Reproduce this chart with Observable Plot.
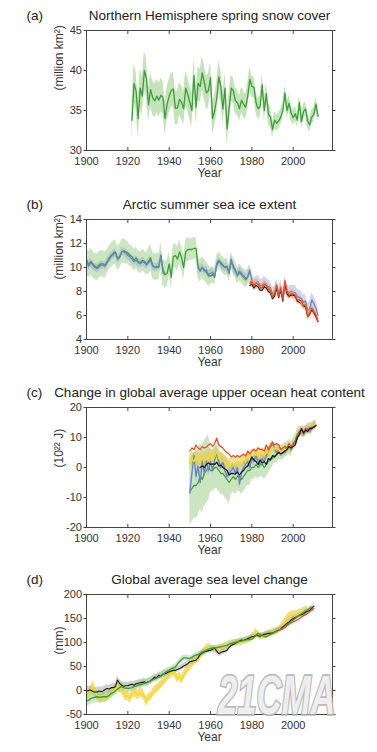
<!DOCTYPE html>
<html><head><meta charset="utf-8">
<script src="https://cdn.jsdelivr.net/npm/d3@7"></script>
<script src="https://cdn.jsdelivr.net/npm/@observablehq/plot@0.6"></script>
<style>
body{margin:0;background:#fff;}
#wrap{position:relative;width:377px;height:752px;overflow:hidden;background:#fff}
.panel{position:absolute;left:0}
#wm{position:absolute;left:0;top:0;pointer-events:none}
</style></head><body><div id="wrap"></div>
<script>
// ---------- shared axis data ----------
const xTicks = [1900, 1920, 1940, 1960, 1980, 2000];
const xDomain = [1900, 2019];

// ---------- (a) Northern Hemisphere spring snow cover (million km²), 1922–2012 ----------
const snowStart = 1922;
const snowCover = [33.8,38.4,37.4,34.0,37.8,36.8,40.0,39.0,35.7,37.6,
  36.6,36.2,36.8,36.3,36.9,36.6,34.0,35.8,36.8,37.5,
  37.7,35.3,35.3,36.4,36.0,35.2,37.8,37.0,36.0,35.0,
  39.4,35.4,38.4,38.0,39.7,38.5,37.2,37.5,39.1,34.0,
  35.0,36.5,39.2,38.0,35.2,37.8,32.7,35.2,37.8,37.5,
  36.2,36.0,35.2,36.3,35.8,35.4,36.8,38.9,38.0,37.9,
  36.0,35.2,35.5,38.2,35.0,37.1,34.5,34.2,32.6,33.8,
  33.4,33.7,34.2,35.0,37.2,35.0,35.9,34.7,34.1,34.6,
  33.8,36.0,33.6,34.9,35.2,33.6,33.2,34.2,34.5,35.8,34.3];
// half-width of uncertainty, per decade 1900s..2010s
const snowUnc = [null,null,2.4,2.1,2.1,2.1,2.0,1.6,1.3,1.0,0.9,0.9];
const snowYTicks = [30, 35, 40, 45];

// ---------- (b) Arctic summer sea ice extent (million km²) ----------
const iceGreenStart = 1900;
const iceGreen = [10.6,10.2,10.5,10.3,10.1,10.0,10.2,10.3,10.3,10.2,
  10.5,10.8,11.0,11.2,11.3,10.8,10.9,11.3,11.4,11.3,
  11.2,11.0,10.9,10.6,10.8,10.5,10.4,10.6,10.5,10.3,
  10.5,10.8,10.2,10.0,10.1,10.0,11.0,9.6,9.4,9.5,
  10.3,9.2,10.9,11.0,10.7,11.3,10.8,10.0,11.3,11.5,
  11.5,11.5,11.6,11.6,10.0,9.7,10.0,9.8,9.6,9.3,
  9.3,9.4,9.2,10.3,10.6,10.4,10.2,10.0,10.1,9.5,
  10.6,10.1,9.8,9.3,9.6,9.4,9.2,9.0,9.2,9.6];
const iceGreenUnc = [1.1,1.0,0.9,1.1,1.0,0.9,0.7,0.7,null,null,null,null];
const iceBlueStart = 1900;
const iceBlue = [10.7,10.1,10.4,10.2,10.0,9.9,10.0,10.2,10.2,10.1,
  10.4,10.7,10.9,11.1,11.2,10.7,10.8,11.3,11.3,11.2,
  11.0,10.9,10.7,10.5,10.6,10.4,10.3,10.5,10.4,10.2,
  10.4,10.6,10.1,10.0,10.0,10.1,11.0,9.8,9.5,null,
  null,null,null,null,null,null,null,null,null,null,
  null,null,null,null,10.0,9.8,10.0,9.7,9.8,9.4,
  9.5,9.6,9.3,10.2,10.5,10.3,10.1,10.0,10.0,9.6,
  10.7,10.0,9.7,9.4,9.7,9.5,9.3,9.1,9.2,9.8,
  8.9,8.6,8.7,8.8,8.5,8.5,8.7,8.6,8.4,8.3,
  7.8,7.9,8.5,7.8,8.4,7.5,8.6,8.0,7.9,8.0,
  7.9,7.9,7.6,7.5,7.4,7.1,7.2,6.4,6.6,7.3,7.0,6.6,6.0];
const iceBlueUnc = [0.35,0.35,0.35,0.35,0.35,0.35,0.35,0.35,0.55,0.55,0.6,0.6];
const iceSatStart = 1979;
const iceRed = [8.7,8.8,8.5,8.7,8.6,8.3,8.3,8.6,8.5,8.2,8.1,
  7.5,7.8,8.5,7.6,8.3,7.3,8.9,8.0,7.7,7.8,
  7.8,7.7,7.3,7.3,7.2,6.8,6.9,5.9,6.2,6.6,6.3,6.0,5.5];
const iceOrange = [8.8,8.9,8.6,8.8,8.7,8.4,8.4,8.7,8.6,8.3,8.2,
  7.6,7.9,8.6,7.7,8.4,7.4,8.8,8.1,7.8,7.9,
  7.9,7.8,7.4,7.2,7.0,6.9,7.0,6.1,6.3,6.7,6.4,6.1,5.7];
const iceBlack = [8.5,8.6,8.3,8.5,8.4,8.1,8.1,8.4,8.3,8.0,7.9,
  7.4,7.6,8.3,7.5,8.1,7.2,8.6,7.8,7.6,7.7,
  7.7,7.6,7.2,7.1,7.0,6.8,6.7,5.9,6.1,6.5,6.2,5.9,5.5];
const iceRedUnc = [null,null,null,null,null,null,null,0.35,0.35,0.35,0.35,0.35];
const iceYTicks = [4, 6, 8, 10, 12, 14];

// ---------- (c) Change in global average upper ocean heat content (10²² J) ----------
const ohcStart = 1950;
const ohcRed = [5.5,6.5,6.0,7.5,6.5,6.0,7.0,6.5,6.8,7.5,
  8.0,7.0,8.0,9.8,7.5,7.0,6.5,5.5,5.0,4.5,
  3.5,4.0,3.5,4.0,3.5,4.0,4.5,3.8,5.5,4.5,
  5.5,6.0,5.5,6.5,6.0,6.0,5.5,7.5,6.0,7.5,
  8.5,7.5,8.0,7.5,6.0,6.5,7.0,6.5,8.0,7.0,
  7.5,8.5,10.5,12.0,12.5,11.5,13.0,12.5,13.0,13.5,13.5,14.0];
const ohcYellow = [1.5,3.0,2.0,4.0,2.5,2.0,3.0,2.5,3.0,3.5,
  4.0,2.5,3.5,5.5,3.0,2.5,2.0,1.5,1.0,0.5,
  1.0,1.5,1.0,1.5,1.0,2.0,2.5,2.0,3.5,3.0,
  4.0,4.5,4.0,5.0,4.0,4.5,4.0,5.5,4.5,6.0,
  7.0,6.0,6.5,6.0,5.0,5.5,6.0,6.0,7.0,6.5,
  7.0,8.0,10.0,11.5,12.0,11.5,12.5,12.5,13.0,13.5,14.0,14.5];
const ohcBlue = [-8.5,-2.0,4.0,-3.0,0.5,-5.0,2.0,-2.0,2.0,-1.0,
  2.0,-1.0,2.5,5.0,2.0,0.0,2.0,-1.0,-3.0,-2.0,
  -1.0,0.0,-2.0,0.0,-5.5,-2.0,0.0,1.0,2.0,0.0,
  3.0,2.0,4.0,2.0,1.0,3.0,2.0,4.0,5.0,6.5,
  8.0,6.0,5.0,6.0,4.5,5.0,5.0,6.0,7.0,6.0,
  7.5,8.0,10.0,11.0,12.0,11.0,12.0,13.0,12.0,13.0,14.0,14.0];
const ohcGreen = [-8,-7,-6,-6,-5,-3,-4,-2,-1,0,
  -1,-1,0,0,-1,-2,-2,-3,-4,-5,
  -4,-3,-4,-3,-3,-4,-3,-2,-1,-1,
  0,0,1,0,1,1,0,1,2,3,
  3,4,4,5,5,5,6,6,7,6,
  8,9,11,12,12,12,12,13,13,13,14,14];
const ohcBlackStart = 1955;
const ohcBlack = [0,0.5,0,1,1.5,
  1,1.2,1,1.8,0.5,0.8,0,-0.5,-1,-2.5,
  -2,-2,-2.2,-1.5,-2.5,-1.5,-1,0,0.5,2,
  3.5,2.5,2,1,2.5,1.5,2,1,3,2.5,
  4,3.5,4.5,5,4.5,5,5.5,6,7,6.5,
  7,7.5,10,11,13,11.5,12.5,12,13,13,13.5,14];
const ohcGreenUnc = [null,null,null,null,null,11,7,5,4,2.5,1.8,1.5];
const ohcYellowUnc = [null,null,null,null,null,2.5,2.5,2,2,1.5,1.5,1.5];
const ohcBlueUnc = [null,null,null,null,null,2,1.5,1.5,1.5,1.2,1.2,1.2];
const ohcYTicks = [-20, -10, 0, 10, 20];

// ---------- (d) Global average sea level change (mm) ----------
const slStart = 1900;
const slBlack = [-1,0,1,-2,-3,-3,-1,-2,-1,2,
  4,3,6,6,8,22,15,11,9,10,
  10,12,13,11,14,15,16,17,18,16,
  18,20,24,28,27,32,30,34,35,37,
  39,40,42,42,44,46,48,51,53,56,
  60,61,62,63,68,75,78,80,82,83,
  84,86,88,82,77,79,81,82,84,90,
  94,96,98,101,103,105,104,106,108,110,
  112,113,115,114,113,115,117,118,119,119,
  120,122,124,126,129,133,136,140,143,147,
  150,152,154,157,158,160,163,165,167,171,176];
const slGreen = [-22,-20,-17,-15,-14,-13,-14,-14,-13,-13,
  -13,-10,-6,-4,-1,3,6,8,6,5,
  4,5,6,8,9,11,12,13,15,16,
  18,20,22,24,26,28,31,34,37,40,
  42,45,47,49,55,60,64,68,68,67,
  67,69,72,74,75,77,80,82,84,86,
  88,88,89,89,90,91,92,93,94,96,
  98,99,100,101,102,103,104,105,106,106,
  107,110,115,119,117,115,113,112,114,117,
  119,121,123,126,127,129,132,136,140,144,
  147,150,154,157,160,163,166,168,171,174];
const slYellow = [-13,-8,-3,11,0,-10,-14,-17,-12,-15,
  -13,-9,-6,-2,3,11,6,4,-5,-13,
  -10,-17,-8,-3,-6,-10,-4,-6,-12,-24,
  -15,-13,-6,1,3,8,12,18,22,27,
  32,36,39,33,25,30,22,30,39,45,
  49,55,60,63,67,72,77,82,88,90,
  89,87,86,85,88,89,91,92,94,96,
  98,99,100,99,101,101,103,104,105,107,
  110,116,122,117,112,113,114,116,119,120,
  121,122,124,126,130,136,143,150,154,157,
  157,157,158,160,162,164,166,167];
const slRedStart = 1993;
const slRed = [126,127,130,132,135,138,141,143,145,147,150,153,156,158,161,164,167,171];
const slBlackUnc = [9,8,7,7,6,6,6,5,5,5,5,5];
const slGreenUnc = [12,9,8,7,6,5,5,5,4,4,4,4];
const slYellowUnc = [10,10,10,9,9,8,7,7,7,8,9,9];
const slYTicks = [-50, 0, 50, 100, 150, 200];

// ---------- colours ----------
const C = {
  green: "#3a9f38", greenBand: "#9fd08a",
  blue: "#6c84c4", blueBand: "#9aa6e2",
  red: "#ee4a22", orange: "#f59a3a", orangeBand: "#f4a26e",
  yellow: "#f3e300", goldBand: "#f0c23e",
  black: "#1a1a1a", grayBand: "#9a9a9a"
};

// ---------- helpers ----------
const series = (start, vals) => vals.map((v, i) => ({year: start + i, v}));
const band = (start, vals, unc) => vals.map((v, i) => {
  const year = start + i, u = unc[Math.floor((year - 1900) / 10)];
  return v == null ? {year, lo: null, hi: null} : {year, lo: v - u, hi: v + u};
});
const area = (start, vals, unc, fill, op) =>
  Plot.areaY(band(start, vals, unc), {x: "year", y1: "lo", y2: "hi", fill, fillOpacity: op, clip: true});
const line = (start, vals, stroke, w = 1.3) =>
  Plot.lineY(series(start, vals), {x: "year", y: "v", stroke, strokeWidth: w, clip: true});

const FONT = "'Liberation Sans', Arial, Helvetica, sans-serif";
const fmt = d => String(d);
const blank = () => "";

function panel({title, tag, ylabel, yDomain, yTicks, marks}) {
  return Plot.plot({
    width: 377, height: 188,
    marginLeft: 86, marginRight: 45, marginTop: 30, marginBottom: 38,
    style: {fontFamily: FONT, fontSize: "11px", color: "#333", background: "transparent", overflow: "visible"},
    x: {domain: xDomain},
    y: {domain: yDomain},
    marks: [
      ...marks,
      Plot.frame({stroke: "#444", strokeWidth: 1}),
      Plot.axisX(xTicks, {anchor: "bottom", tickSize: 0, tickPadding: 7, tickFormat: fmt, fontSize: 11, fill: "#333", label: null}),
      Plot.axisX(xTicks, {anchor: "bottom", tickSize: -3, tickFormat: blank, label: null, stroke: "#444"}),
      Plot.axisX(xTicks, {anchor: "top", tickSize: -3, tickFormat: blank, label: null, stroke: "#444"}),
      Plot.axisY(yTicks, {anchor: "left", tickSize: 2.5, tickPadding: 2, tickFormat: fmt, fontSize: 11, fill: "#333", label: null, stroke: "#444"}),
      Plot.axisY(yTicks, {anchor: "right", tickSize: 2.5, tickFormat: blank, label: null, stroke: "#444"}),
      Plot.text([title], {text: d => d, frameAnchor: "top", lineAnchor: "middle", dy: -15, fontSize: 13.5, fill: "#222"}),
      Plot.text([tag], {text: d => d, frameAnchor: "top-left", lineAnchor: "middle", dx: -60, dy: -15, textAnchor: "start", fontSize: 13.5, fill: "#222"}),
      Plot.text(["Year"], {text: d => d, frameAnchor: "bottom", lineAnchor: "middle", dy: 23, fontSize: 12, fill: "#333"}),
      Plot.text([ylabel], {text: d => d, frameAnchor: "left", lineAnchor: "middle", dx: -27, rotate: -90, fontSize: 12, fill: "#333"})
    ]
  });
}

const panels = [
  {top: 0, cfg: {
    title: "Northern Hemisphere spring snow cover", tag: "(a)", ylabel: "(million km²)",
    yDomain: [30, 45], yTicks: snowYTicks,
    marks: [
      area(snowStart, snowCover, snowUnc, C.greenBand, 0.6),
      line(snowStart, snowCover, C.green)
    ]}},
  {top: 189, cfg: {
    title: "Arctic summer sea ice extent", tag: "(b)", ylabel: "(million km²)",
    yDomain: [4, 14], yTicks: iceYTicks,
    marks: [
      area(iceGreenStart, iceGreen, iceGreenUnc, C.greenBand, 0.55),
      area(iceBlueStart, iceBlue, iceBlueUnc, C.blueBand, 0.45),
      area(iceSatStart, iceRed, iceRedUnc, C.orangeBand, 0.6),
      line(iceGreenStart, iceGreen, C.green),
      line(iceBlueStart, iceBlue, C.blue),
      line(iceSatStart, iceBlack, C.black, 1.1),
      line(iceSatStart, iceOrange, C.orange, 1.1),
      line(iceSatStart, iceRed, C.red, 1.3)
    ]}},
  {top: 377, cfg: {
    title: "Change in global average upper ocean heat content", tag: "(c)", ylabel: "(10²² J)",
    yDomain: [-20, 20], yTicks: ohcYTicks,
    marks: [
      area(ohcStart, ohcGreen, ohcGreenUnc, C.greenBand, 0.55),
      area(ohcStart, ohcYellow, ohcYellowUnc, C.goldBand, 0.55),
      area(ohcStart, ohcBlue, ohcBlueUnc, C.blueBand, 0.4),
      line(ohcStart, ohcGreen, C.green),
      line(ohcStart, ohcBlue, C.blue),
      line(ohcStart, ohcYellow, C.yellow),
      line(ohcStart, ohcRed, C.red),
      line(ohcBlackStart, ohcBlack, C.black)
    ]}},
  {top: 564, cfg: {
    title: "Global average sea level change", tag: "(d)", ylabel: "(mm)",
    yDomain: [-50, 200], yTicks: slYTicks,
    marks: [
      area(slStart, slYellow, slYellowUnc, C.goldBand, 0.6),
      area(slStart, slBlack, slBlackUnc, C.grayBand, 0.45),
      area(slStart, slGreen, slGreenUnc, C.greenBand, 0.5),
      line(slStart, slYellow, C.yellow, 1.4),
      line(slStart, slBlack, C.black, 1.1),
      line(slStart, slGreen, C.green, 1.4),
      line(slRedStart, slRed, C.red, 1.3)
    ]}}
];

const wrap = document.getElementById("wrap");
for (const {top, cfg} of panels) {
  const d = document.createElement("div");
  d.className = "panel";
  d.style.top = top + "px";
  d.appendChild(panel(cfg));
  wrap.appendChild(d);
}

// watermark present in the reference image
const ns = "http://www.w3.org/2000/svg";
const wm = document.createElementNS(ns, "svg");
wm.setAttribute("id", "wm");
wm.setAttribute("width", 377);
wm.setAttribute("height", 752);
const t = document.createElementNS(ns, "text");
t.textContent = "21CMA";
t.setAttribute("transform", "translate(218,714) scale(0.62,1)");
t.setAttribute("font-family", FONT);
t.setAttribute("font-size", 56);
t.setAttribute("font-weight", "bold");
t.setAttribute("font-style", "italic");
t.setAttribute("fill", "#ededed");
t.setAttribute("stroke", "#b2b2b2");
t.setAttribute("stroke-width", 3.5);
t.setAttribute("paint-order", "stroke");
t.setAttribute("opacity", 0.9);
wm.appendChild(t);
wrap.appendChild(wm);
</script>
</body></html>
